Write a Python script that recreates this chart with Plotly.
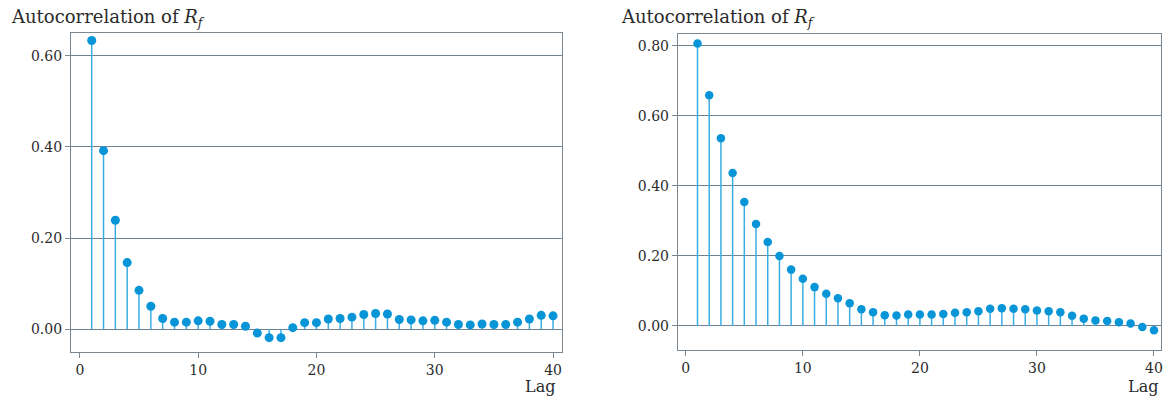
import plotly.graph_objects as go

lags = list(range(1, 41))

acf_left = [0.634, 0.392, 0.239, 0.146, 0.085, 0.050, 0.023, 0.015, 0.015, 0.018,
            0.017, 0.010, 0.010, 0.006, -0.009, -0.019, -0.019, 0.003, 0.014, 0.014,
            0.022, 0.023, 0.026, 0.032, 0.034, 0.033, 0.021, 0.020, 0.018, 0.019,
            0.015, 0.010, 0.009, 0.011, 0.010, 0.010, 0.015, 0.022, 0.030, 0.029]

acf_right = [0.807, 0.659, 0.536, 0.437, 0.354, 0.291, 0.240, 0.200, 0.161, 0.135,
             0.111, 0.092, 0.079, 0.065, 0.048, 0.039, 0.031, 0.030, 0.033, 0.033,
             0.033, 0.034, 0.038, 0.039, 0.042, 0.049, 0.051, 0.049, 0.048, 0.044,
             0.042, 0.039, 0.029, 0.021, 0.016, 0.014, 0.011, 0.007, -0.003, -0.012]

x_ticks = [0, 10, 20, 30, 40]
left_yticks = [0.0, 0.2, 0.4, 0.6]
right_yticks = [0.0, 0.2, 0.4, 0.6, 0.8]

title_text = "Autocorrelation of <i>R</i><sub><i>f</i></sub>"

FONT = "DejaVu Serif"
DOT = "#0795d8"
STEM = "#3aaee4"
GRID = "#6f8290"
AXIS = "#7d8790"
TXT = "#2b2b2b"

W, H = 1171, 397

fig = go.Figure()


def add_panel(vals, xa, ya, msize):
    sx, sy = [], []
    for k, v in zip(lags, vals):
        sx += [k, k, None]
        sy += [0, v, None]
    fig.add_trace(go.Scatter(x=sx, y=sy, mode="lines",
                             line=dict(color=STEM, width=1.5),
                             xaxis=xa, yaxis=ya, showlegend=False, hoverinfo="skip"))
    fig.add_trace(go.Scatter(x=lags, y=vals, mode="markers",
                             marker=dict(color=DOT, size=msize),
                             xaxis=xa, yaxis=ya, showlegend=False))


add_panel(acf_left, "x", "y", 9)
add_panel(acf_right, "x2", "y2", 8.5)

common_x = dict(tickvals=x_ticks, ticks="outside", ticklen=5, tickcolor=AXIS,
                showline=True, linecolor=AXIS, linewidth=1, mirror=True,
                showgrid=False, zeroline=False,
                tickfont=dict(family=FONT, size=14, color=TXT))
common_y = dict(ticks="outside", ticklen=5, tickcolor=AXIS, tickformat=".2f",
                showline=True, linecolor=AXIS, linewidth=1, mirror=True,
                showgrid=True, gridcolor=GRID, gridwidth=1, zeroline=False,
                tickfont=dict(family=FONT, size=14, color=TXT))


def px(x):
    return x / W


def py(y):
    return 1 - y / H


fig.update_layout(
    width=W, height=H,
    margin=dict(l=0, r=0, t=0, b=0),
    paper_bgcolor="white", plot_bgcolor="white",
    xaxis=dict(domain=[px(71), px(563)], range=[-0.76, 40.76], anchor="y", **common_x),
    yaxis=dict(domain=[py(352), py(33)], range=[-0.0505, 0.6505], anchor="x",
               tickvals=left_yticks, **common_y),
    xaxis2=dict(domain=[px(679), px(1163)], range=[-0.68, 40.6], anchor="y2", **common_x),
    yaxis2=dict(domain=[py(350), py(34)], range=[-0.0686, 0.834], anchor="x2",
                tickvals=right_yticks, **common_y),
    annotations=[
        dict(text=title_text, x=px(9), y=py(4), xref="paper", yref="paper",
             xanchor="left", yanchor="top", showarrow=False,
             font=dict(family=FONT, size=18, color=TXT)),
        dict(text=title_text, x=px(620), y=py(4), xref="paper", yref="paper",
             xanchor="left", yanchor="top", showarrow=False,
             font=dict(family=FONT, size=18, color=TXT)),
        dict(text="Lag", x=px(558), y=py(375), xref="paper", yref="paper",
             xanchor="right", yanchor="top", showarrow=False,
             font=dict(family=FONT, size=16, color=TXT)),
        dict(text="Lag", x=px(1162), y=py(375), xref="paper", yref="paper",
             xanchor="right", yanchor="top", showarrow=False,
             font=dict(family=FONT, size=16, color=TXT)),
    ],
)

fig.write_html("out.html", config={"displayModeBar": False},
               post_script="document.body.style.margin='0';document.body.style.overflow='hidden';")
